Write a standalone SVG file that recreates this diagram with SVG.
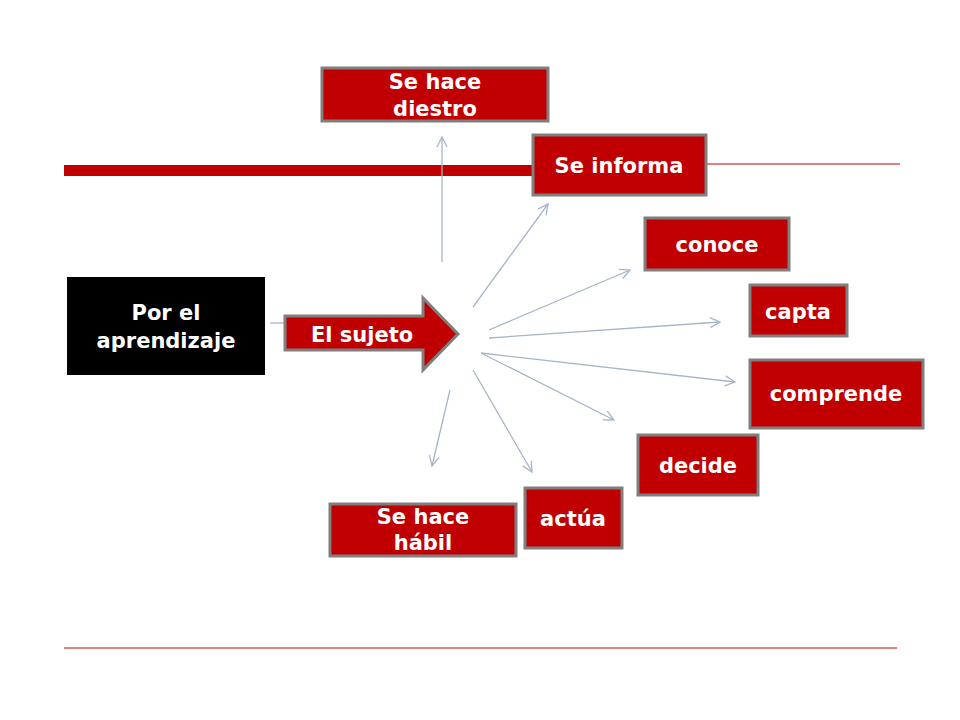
<svg xmlns="http://www.w3.org/2000/svg" width="960" height="720" viewBox="0 0 960 720">
<style>
.box{fill:#c00000;stroke:#7f7f7f;stroke-width:3}
.t{font-family:"DejaVu Sans",Verdana,sans-serif;font-weight:bold;font-size:21px;fill:#fff;text-anchor:middle}
.c{stroke:#a7b5c8;stroke-width:1.3;fill:none;marker-end:url(#ah)}
</style>
<defs>
<marker id="ah" viewBox="0 0 12 12" refX="11" refY="6" markerWidth="12" markerHeight="12" markerUnits="userSpaceOnUse" orient="auto">
<path d="M1,1 L11,6 L1,11" fill="none" stroke="#a7b5c8" stroke-width="1.3"/>
</marker>
</defs>
<rect width="960" height="720" fill="#fff"/>
<rect x="64" y="165" width="472" height="11" fill="#c00000"/>
<line x1="705" y1="164" x2="900" y2="164" stroke="#c00000" stroke-width="1"/>
<line x1="64" y1="648" x2="897" y2="648" stroke="#c00000" stroke-width="1"/>
<g id="connectors">
<line x1="270" y1="323" x2="286" y2="323" stroke="#a7b5c8" stroke-width="1.3"/>
<line class="c" x1="442" y1="262" x2="442" y2="137"/>
<line class="c" x1="473" y1="307" x2="548" y2="204"/>
<line class="c" x1="489" y1="330" x2="630" y2="270"/>
<line class="c" x1="489" y1="338" x2="720" y2="322"/>
<line class="c" x1="481" y1="353" x2="735" y2="382"/>
<line class="c" x1="481" y1="353" x2="614" y2="420"/>
<line class="c" x1="473" y1="370" x2="532" y2="472"/>
<line class="c" x1="450" y1="390" x2="432" y2="466"/>
</g>
<g id="aprendizaje">
<rect x="67" y="277" width="198" height="98" fill="#000"/>
<text class="t" x="166" y="320">Por el</text>
<text class="t" x="166" y="348">aprendizaje</text>
</g>
<g id="sujeto">
<path class="box" d="M285,316 H423 V298 L458,334 L423,370 V350 H285 Z"/>
<text class="t" x="362" y="342">El sujeto</text>
</g>
<g id="diestro">
<rect class="box" x="322" y="68" width="226" height="53"/>
<text class="t" x="435" y="89">Se hace</text>
<text class="t" x="435" y="116">diestro</text>
</g>
<g id="informa">
<rect class="box" x="533" y="135" width="173" height="60"/>
<text class="t" x="619" y="173">Se informa</text>
</g>
<g id="conoce">
<rect class="box" x="645" y="218" width="144" height="52"/>
<text class="t" x="717" y="252">conoce</text>
</g>
<g id="capta">
<rect class="box" x="750" y="285" width="97" height="51"/>
<text class="t" x="798" y="319">capta</text>
</g>
<g id="comprende">
<rect class="box" x="750" y="360" width="173" height="68"/>
<text class="t" x="836" y="401">comprende</text>
</g>
<g id="decide">
<rect class="box" x="638" y="435" width="120" height="60"/>
<text class="t" x="698" y="473">decide</text>
</g>
<g id="actua">
<rect class="box" x="525" y="488" width="97" height="60"/>
<text class="t" x="573" y="526">actúa</text>
</g>
<g id="habil">
<rect class="box" x="330" y="504" width="186" height="52"/>
<text class="t" x="423" y="524">Se hace</text>
<text class="t" x="423" y="550">hábil</text>
</g>
</svg>
